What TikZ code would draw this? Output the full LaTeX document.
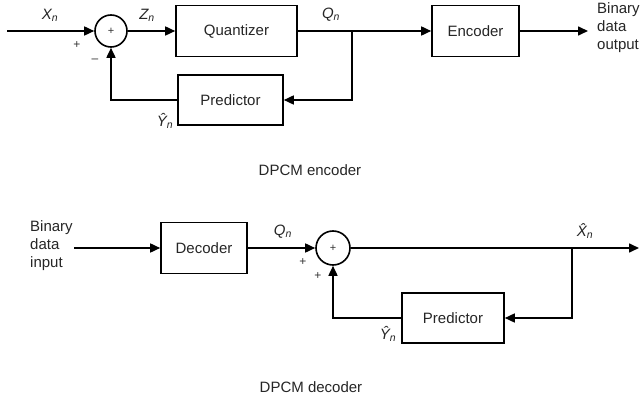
\documentclass[tikz,border=0pt]{standalone}
\usepackage{fontspec}
\setmainfont{Liberation Sans}
\usetikzlibrary{arrows.meta}
\begin{document}
\begin{tikzpicture}[x=1pt,y=-1pt,
  blk/.style={draw=black, line width=1.6pt, fill=white, inner sep=0pt,
    font=\fontsize{15}{17}\selectfont, text=black!85},
  sumc/.style={circle, draw=black, line width=1.6pt, minimum size=32pt, inner sep=0pt,
    font=\fontsize{11}{11}\selectfont, text=black!80},
  wire/.style={line width=1.6pt},
  arr/.style={wire, -{Triangle[length=10pt,width=9pt]}},
  lbl/.style={font=\fontsize{15}{17}\selectfont\itshape, text=black!85},
  sgn/.style={font=\fontsize{12}{12}\selectfont, text=black!80},
  txt/.style={font=\fontsize{15}{18}\selectfont, text=black!85, align=left}
]
\useasboundingbox[fill=white] (0,0) rectangle (640,398);

% ---------------- Encoder ----------------
\coordinate (xin) at (7,31);
\node[sumc] (s1) at (111,31) {+};
\node[blk, minimum width=121pt, minimum height=51pt] (quant) at (236.5,31) {Quantizer};
\node[blk, minimum width=87pt, minimum height=51pt] (enc) at (475.5,31) {Encoder};
\node[blk, minimum width=105pt, minimum height=50pt] (pred1) at (230.5,100) {Predictor};
\coordinate (b1) at (352,31);
\coordinate (out1) at (588,31);

\draw[arr] (xin) -- (s1.west);
\draw[arr] (s1.east) -- (quant.west);
\draw[arr] (quant.east) -- (enc.west);
\draw[arr] (enc.east) -- (out1);
\draw[arr] (b1) |- (pred1.east);
\draw[arr] (pred1.west) -| (s1.south);

\node[lbl] (lx) at (50,15) {X\textsubscript{n}};
\node[lbl] (lz) at (147,15) {Z\textsubscript{n}};
\node[lbl] (lq1) at (331,15) {Q\textsubscript{n}};
\node[lbl] (ly1) at (165,121) {\^{Y}\textsubscript{n}};
\node[sgn] (p1) at (77,45) {+};
\node[sgn] (m1) at (95,61) {\textendash};
\node[txt, anchor=west, inner sep=0pt] (bout) at (597,28) {Binary\\data\\output};
\node[txt] (cap1) at (310,170) {DPCM encoder};

% ---------------- Decoder ----------------
\node[txt, anchor=west, inner sep=0pt] (bin) at (30,246) {Binary\\data\\input};
\coordinate (din) at (74,248);
\node[blk, minimum width=86pt, minimum height=51pt] (dec) at (204,248) {Decoder};
\node[sumc, minimum size=34pt] (s2) at (333,248) {+};
\node[blk, minimum width=102pt, minimum height=50pt] (pred2) at (453,318) {Predictor};
\coordinate (b2) at (572,248);
\coordinate (out2) at (639,248);

\draw[arr] (din) -- (dec.west);
\draw[arr] (dec.east) -- (s2.west);
\draw[arr] (s2.east) -- (out2);
\draw[arr] (b2) |- (pred2.east);
\draw[arr] (pred2.west) -| (s2.south);

\node[lbl] (lq2) at (283,232) {Q\textsubscript{n}};
\node[lbl] (lxh) at (585,231) {\^{X}\textsubscript{n}};
\node[lbl] (ly2) at (388,334) {\^{Y}\textsubscript{n}};
\node[sgn] (p2) at (303,262) {+};
\node[sgn] (p3) at (318,276) {+};
\node[txt] (cap2) at (311,387) {DPCM decoder};
\end{tikzpicture}
\end{document}
